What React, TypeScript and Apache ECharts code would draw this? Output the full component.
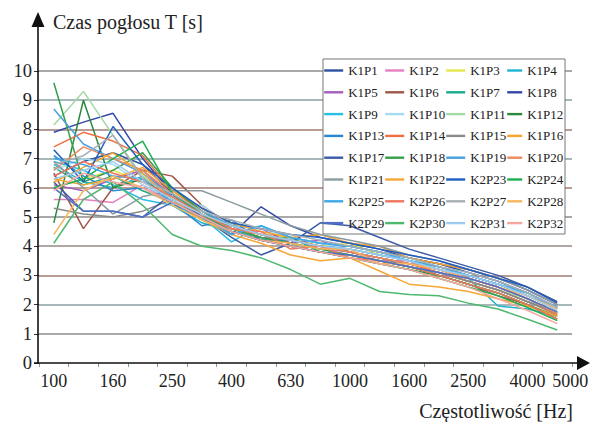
import React, { useEffect, useRef } from "react";
import * as echarts from "echarts";

const frequencies = ["100","125","160","200","250","315","400","500","630","800","1000","1250","1600","2000","2500","3150","4000","5000"];

const seriesNames = ["K1P1","K1P2","K1P3","K1P4","K1P5","K1P6","K1P7","K1P8","K1P9","K1P10","K1P11","K1P12","K1P13","K1P14","K1P15","K1P16","K1P17","K1P18","K1P19","K1P20","K1P21","K1P22","K2P23","K2P24","K2P25","K2P26","K2P27","K2P28","K2P29","K2P30","K2P31","K2P32"];

const seriesColors = ["#2e4fa0","#e67fc1","#e6e64a","#1fb4d2","#a35cbf","#a0564a","#19a98e","#3447a6","#27bfe8","#a5daf0","#a4daa4","#2a8a3c","#2b85cf","#ef6f3e","#8a8a8a","#f7a52e","#3b5aa6","#34a048","#49a0df","#ef8a5f","#8c9ba1","#f7a636","#1f5fbf","#1faf50","#3fa7e6","#ef765e","#a7afb6","#f7b75e","#4f6fc6","#4fb86f","#9fcbef","#f7a69e"];

const K1P1 = [6.4, 6.9, 7.2, 6.8, 5.8, 5.0, 4.7, 4.4, 4.3, 4.1, 4.0, 3.8, 3.6, 3.4, 3.1, 2.8, 2.4, 1.9];
const K1P2 = [5.6, 5.6, 5.5, 6.1, 5.5, 4.9, 4.6, 4.3, 4.1, 3.9, 3.8, 3.5, 3.5, 3.0, 2.9, 2.6, 2.2, 1.7];
const K1P3 = [6.0, 6.3, 6.6, 6.2, 5.6, 5.0, 4.6, 4.4, 4.3, 4.0, 4.1, 3.7, 3.5, 3.3, 3.0, 2.7, 2.3, 1.8];
const K1P4 = [6.8, 6.2, 6.0, 6.4, 5.4, 4.8, 4.5, 4.3, 4.2, 4.0, 3.9, 3.7, 3.5, 3.2, 2.9, 1.95, 1.85, 1.6];
const K1P5 = [6.1, 5.9, 6.3, 6.6, 5.7, 5.1, 4.7, 4.6, 4.1, 4.2, 3.8, 3.6, 3.4, 3.2, 2.9, 2.6, 2.2, 1.7];
const K1P6 = [6.5, 4.6, 6.0, 6.6, 6.4, 5.4, 4.7, 4.4, 4.1, 3.9, 3.7, 3.5, 3.3, 3.0, 2.7, 2.3, 2.0, 1.5];
const K1P7 = [6.7, 6.1, 6.4, 5.9, 5.5, 5.0, 4.8, 4.2, 4.3, 3.8, 3.7, 3.5, 3.3, 3.1, 2.8, 2.5, 2.1, 1.75];
const K1P8 = [7.9, 8.25, 8.55, 7.0, 5.8, 5.0, 4.4, 5.35, 4.7, 4.3, 4.1, 3.9, 3.6, 3.4, 3.2, 2.9, 2.5, 2.0];
const K1P9 = [6.9, 6.6, 6.1, 5.6, 5.4, 5.0, 4.15, 4.7, 4.3, 4.1, 4.0, 3.8, 3.6, 3.3, 3.0, 2.7, 2.4, 1.9];
const K1P10 = [6.6, 7.0, 6.8, 6.1, 5.6, 5.4, 4.7, 4.6, 4.3, 4.1, 3.9, 3.7, 3.5, 3.3, 3.0, 2.7, 2.3, 1.85];
const K1P11 = [8.15, 9.3, 7.8, 6.4, 5.7, 5.1, 4.6, 4.3, 4.1, 3.9, 3.7, 3.5, 3.3, 3.1, 2.8, 2.5, 2.2, 1.7];
const K1P12 = [4.8, 9.0, 6.0, 6.3, 5.6, 4.9, 4.5, 4.2, 4.0, 3.8, 3.6, 3.4, 3.2, 3.0, 2.7, 2.4, 2.0, 1.6];
const K1P13 = [7.1, 6.4, 5.9, 6.0, 5.5, 4.7, 4.9, 4.2, 4.2, 4.0, 3.8, 3.6, 3.4, 3.2, 3.0, 2.7, 2.3, 1.85];
const K1P14 = [7.4, 7.9, 7.6, 7.1, 5.9, 5.2, 4.7, 4.4, 4.2, 4.0, 3.8, 3.6, 3.4, 3.1, 2.8, 2.5, 2.1, 1.65];
const K1P15 = [5.3, 5.1, 5.0, 5.2, 5.6, 5.0, 4.6, 4.3, 4.2, 4.0, 3.8, 3.6, 3.3, 3.1, 2.8, 2.5, 2.1, 1.7];
const K1P16 = [6.3, 6.1, 6.3, 6.7, 5.9, 5.3, 4.8, 4.5, 4.3, 4.4, 4.1, 4.0, 3.6, 3.4, 3.2, 2.9, 2.6, 2.1];
const K1P17 = [6.2, 5.2, 5.2, 5.0, 5.8, 5.0, 4.3, 3.7, 4.1, 4.8, 4.7, 4.3, 3.9, 3.6, 3.3, 3.0, 2.6, 2.05];
const K1P18 = [9.6, 6.2, 6.6, 7.2, 6.0, 5.2, 4.6, 4.3, 4.1, 3.9, 3.7, 3.5, 3.3, 3.0, 2.7, 2.4, 2.0, 1.5];
const K1P19 = [8.7, 7.5, 7.0, 6.5, 5.7, 5.2, 4.7, 4.4, 4.2, 4.0, 3.9, 3.7, 3.5, 3.3, 3.0, 2.7, 2.3, 1.9];
const K1P20 = [6.6, 7.4, 7.0, 6.6, 5.8, 5.1, 4.6, 4.4, 4.2, 4.0, 3.8, 3.6, 3.4, 3.2, 2.9, 2.6, 2.2, 1.7];
const K1P21 = [6.9, 6.0, 5.1, 5.7, 5.9, 5.9, 5.5, 5.1, 4.7, 4.4, 4.2, 4.0, 3.7, 3.5, 3.2, 2.9, 2.5, 2.0];
const K1P22 = [6.2, 6.7, 7.2, 6.5, 5.6, 4.9, 4.4, 4.1, 3.7, 3.5, 3.6, 3.15, 2.7, 2.6, 2.45, 2.2, 1.95, 1.6];
const K2P23 = [7.3, 6.2, 8.1, 6.8, 6.0, 5.3, 4.8, 4.6, 4.4, 4.3, 4.1, 3.9, 3.7, 3.5, 3.2, 2.9, 2.6, 2.1];
const K2P24 = [6.0, 6.3, 7.0, 7.6, 5.8, 5.1, 4.5, 4.2, 4.0, 3.8, 3.6, 3.4, 3.2, 2.9, 2.6, 2.3, 1.9, 1.45];
const K2P25 = [7.0, 6.8, 6.4, 6.3, 5.5, 5.0, 4.4, 4.7, 4.3, 4.1, 4.0, 3.8, 3.5, 3.3, 3.0, 2.7, 2.4, 1.9];
const K2P26 = [6.4, 6.9, 6.5, 6.2, 5.7, 5.1, 4.6, 4.5, 3.9, 4.0, 3.6, 3.5, 3.3, 3.0, 2.7, 2.4, 2.0, 1.5];
const K2P27 = [6.8, 7.1, 7.8, 6.3, 5.8, 5.2, 4.9, 4.6, 4.4, 4.2, 4.0, 3.8, 3.6, 3.3, 3.1, 2.8, 2.4, 1.9];
const K2P28 = [4.4, 5.9, 6.4, 6.0, 5.4, 4.9, 4.5, 4.2, 4.1, 3.9, 3.9, 3.4, 3.4, 3.2, 2.9, 2.6, 2.3, 1.85];
const K2P29 = [6.0, 5.2, 5.2, 5.0, 5.5, 5.0, 4.5, 4.2, 4.0, 3.8, 3.7, 3.5, 3.3, 3.1, 2.9, 2.6, 2.2, 1.75];
const K2P30 = [4.1, 5.6, 6.2, 5.4, 4.4, 4.0, 3.85, 3.6, 3.2, 2.7, 2.9, 2.45, 2.35, 2.3, 2.05, 1.85, 1.5, 1.13];
const K2P31 = [6.3, 6.6, 6.9, 6.2, 5.6, 5.1, 4.7, 4.4, 4.2, 4.0, 3.9, 3.7, 3.5, 3.2, 3.0, 2.7, 2.3, 1.8];
const K2P32 = [5.9, 6.5, 6.2, 6.0, 5.5, 5.0, 4.5, 4.2, 4.0, 3.8, 3.6, 3.4, 3.2, 2.9, 2.6, 2.2, 1.8, 1.35];

const seriesValues = [K1P1,K1P2,K1P3,K1P4,K1P5,K1P6,K1P7,K1P8,K1P9,K1P10,K1P11,K1P12,K1P13,K1P14,K1P15,K1P16,K1P17,K1P18,K1P19,K1P20,K1P21,K1P22,K2P23,K2P24,K2P25,K2P26,K2P27,K2P28,K2P29,K2P30,K2P31,K2P32];

const yTicks = [0, 1, 2, 3, 4, 5, 6, 7, 8, 9, 10];
const gridLineColors = ["rgba(0,0,0,0)", "#8e8e8e", "#8aa0a4", "#a07c74", "#978a86", "#8c8c8c", "#a07c74", "#8aa0a4", "#a07c74", "#8aa0a4", "#8c8c8c"];

const yTitle = "Czas pogłosu T [s]";
const xTitle = "Częstotliwość [Hz]";

const FONT = "'Liberation Serif', 'Times New Roman', serif";

export default function App() {
  const ref = useRef<HTMLDivElement>(null);
  useEffect(() => {
    if (!ref.current) return;
    const chart = echarts.init(ref.current, undefined, { renderer: "svg" });
    const colTextX = [347, 408, 469, 526];
    const colIconW = [19, 19, 19, 15];
    const legends = colTextX.map((tx, c) => ({
      orient: "vertical",
      left: tx - colIconW[c] - 5,
      top: 64,
      padding: 0,
      itemWidth: colIconW[c],
      itemHeight: 14,
      itemGap: 8.8,
      selectedMode: false,
      itemStyle: { opacity: 0 },
      lineStyle: { width: 2.4 },
      textStyle: { fontFamily: FONT, fontSize: 13, color: "#222" },
      data: seriesNames.filter((_, i) => i % 4 === c),
    }));
    const lastIdx = frequencies.length - 1;
    chart.setOption({
      animation: false,
      backgroundColor: "#fff",
      grid: { left: 39, right: 22, top: 71, bottom: 59 },
      legend: legends,
      xAxis: {
        type: "category",
        data: frequencies,
        boundaryGap: true,
        axisLine: { show: false },
        axisTick: { show: true, interval: 0, length: 4, lineStyle: { color: "#7fa0a8", width: 1 } },
        axisLabel: {
          interval: (idx: number) => idx % 2 === 0 || idx === lastIdx,
          showMaxLabel: true,
          hideOverlap: false,
          fontFamily: FONT,
          fontSize: 18,
          color: "#222",
          margin: 9,
          formatter: (v: string, idx: number) => (idx === lastIdx ? `{last|${v}}` : v),
          rich: { last: { fontFamily: FONT, fontSize: 18, color: "#222", padding: [0, 0, 0, 26] } },
        },
        splitLine: { show: false },
      },
      yAxis: {
        type: "value",
        min: yTicks[0],
        max: yTicks[yTicks.length - 1],
        interval: 1,
        axisLine: { show: false },
        axisTick: { show: true, length: 5, lineStyle: { color: "#333", width: 1 } },
        axisLabel: { fontFamily: FONT, fontSize: 18.5, color: "#222", margin: 7 },
        splitLine: { show: true, lineStyle: { color: gridLineColors, width: 1.6 } },
      },
      series: seriesNames.map((name, i) => ({
        name,
        type: "line",
        data: seriesValues[i],
        symbol: "none",
        color: seriesColors[i],
        lineStyle: { width: 1.5, color: seriesColors[i] },
      })),
      graphic: [
        { type: "rect", z: 3, shape: { x: 323, y: 59, width: 242, height: 175 }, style: { fill: "#fff", stroke: "#777", lineWidth: 1 } },
        { type: "line", z: 5, shape: { x1: 38, y1: 363, x2: 38, y2: 26 }, style: { stroke: "#111", lineWidth: 1.6 } },
        { type: "polygon", z: 5, shape: { points: [[31.5, 27], [44.5, 27], [38, 12]] }, style: { fill: "#111" } },
        { type: "line", z: 5, shape: { x1: 34, y1: 363, x2: 579, y2: 363 }, style: { stroke: "#111", lineWidth: 1.6 } },
        { type: "polygon", z: 5, shape: { points: [[577, 356], [577, 370], [590, 363]] }, style: { fill: "#111" } },
        { type: "text", z: 5, left: 53, top: 12, style: { text: yTitle, font: `20px ${FONT}`, fill: "#222" } },
        { type: "text", z: 5, right: 21, top: 401, style: { text: xTitle, font: `20px ${FONT}`, fill: "#222" } },
      ],
    });
    return () => chart.dispose();
  }, []);
  return <div ref={ref} style={{ position: "fixed", left: 0, top: 0, width: 594, height: 422 }} />;
}
